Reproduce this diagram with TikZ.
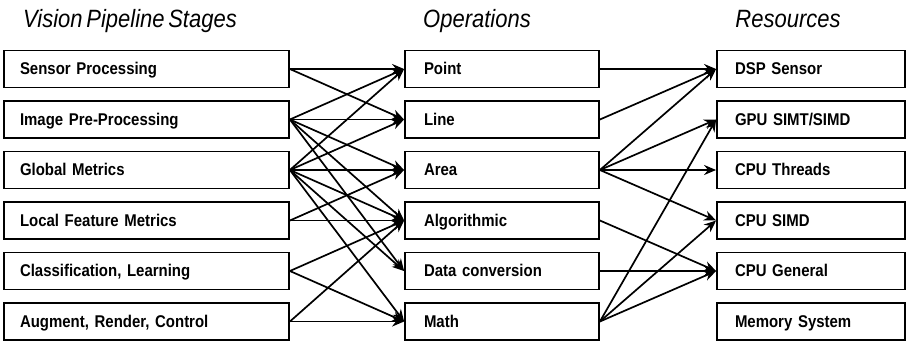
\documentclass[tikz,border=0pt]{standalone}
\usepackage{fontspec}
\setmainfont{Liberation Sans}[FakeStretch=0.88, WordSpace=0.6]
\usepackage{tikz}
\usetikzlibrary{arrows.meta}
\tikzset{
  pbox/.style ={rectangle, draw=black, line width=1.8pt, fill=white,
                minimum height=37pt, inner ysep=0pt, align=left,
                text height=12.5pt, text depth=1pt,
                font=\fontsize{17}{20}\selectfont\bfseries},
  stagebox/.style={pbox, text width=253pt, inner xsep=16pt},
  opbox/.style   ={pbox, text width=156pt, inner xsep=19pt},
  resbox/.style  ={pbox, text width=152pt, inner xsep=18pt},
  coltitle/.style={anchor=base, font=\fontsize{25}{28}\selectfont\itshape},
  flowarr/.style ={-{Stealth[length=12pt, width=10pt]}, line width=1.7pt, black},
}

\begin{document}
\begin{tikzpicture}[x=1pt, y=-1pt]
  \useasboundingbox (0,0) rectangle (915,341);
  % column titles
  \node[coltitle] (tstage) at (130,27) {Vision Pipeline Stages};
  \node[coltitle] (top)    at (477,27) {Operations};
  \node[coltitle] (tres)   at (788,27) {Resources};
  % three columns of boxes
  \foreach \i/\y/\txt in {1/69/Sensor Processing, 2/119.5/Image Pre-Processing,
      3/170/Global Metrics, 4/220.5/Local Feature Metrics,
      5/271/{Classification, Learning}, 6/321.5/{Augment, Render, Control}} {
    \node[stagebox] (s\i) at (146.5,\y) {\txt};
  }
  \foreach \i/\y/\txt in {1/69/Point, 2/119.5/Line, 3/170/Area,
      4/220.5/Algorithmic, 5/271/Data conversion, 6/321.5/Math} {
    \node[opbox] (o\i) at (502,\y) {\txt};
  }
  \foreach \i/\y/\txt in {1/69/DSP Sensor, 2/119.5/{GPU SIMT/SIMD}, 3/170/CPU Threads,
      4/220.5/CPU SIMD, 5/271/CPU General, 6/321.5/Memory System} {
    \node[resbox] (r\i) at (811,\y) {\txt};
  }
  % stages -> operations
  \foreach \a/\b in {1/1, 1/2, 2/1, 2/2, 2/3, 2/4, 2/5, 3/1, 3/2, 3/3, 3/4, 3/5, 3/6,
      4/3, 4/4, 5/4, 5/6, 6/4, 6/6} {
    \draw[flowarr] (s\a.east) -- (o\b.west);
  }
  % operations -> resources
  \foreach \a/\b in {1/1, 2/1, 3/1, 3/2, 3/3, 3/4, 4/5, 5/5, 6/2, 6/4, 6/5} {
    \draw[flowarr] (o\a.east) -- (r\b.west);
  }
\end{tikzpicture}
\end{document}
